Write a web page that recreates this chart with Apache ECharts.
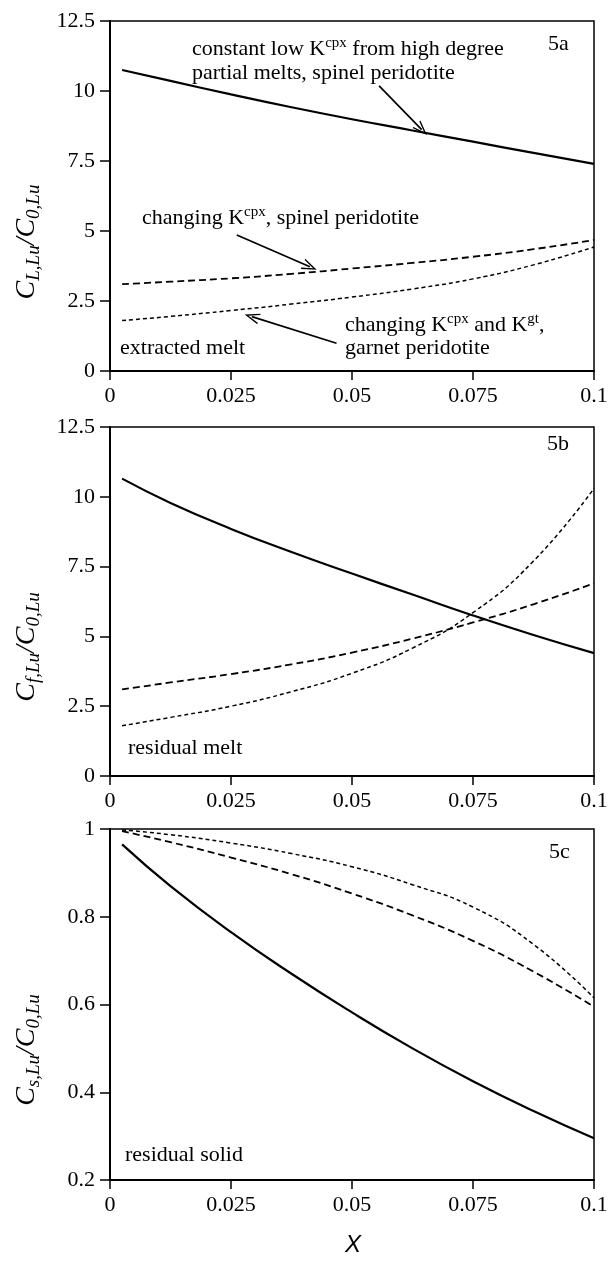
<!DOCTYPE html>
<html>
<head>
<meta charset="utf-8">
<script src="https://cdn.jsdelivr.net/npm/echarts@6/dist/echarts.min.js"></script>
<style>
  html, body { margin: 0; padding: 0; background: #fff; }
  #chart { width: 609px; height: 1261px; }
</style>
</head>
<body>
<div id="chart"></div>
<script>
// melt fraction X
const xs = [0.0025, 0.0125, 0.025, 0.0375, 0.05, 0.0625, 0.075, 0.0875, 0.1];

// 5a extracted melt
const extConst   = [10.75, 10.36, 9.88, 9.42, 8.99, 8.59, 8.19, 7.79, 7.40];
const extSpinel  = [3.10, 3.19, 3.31, 3.47, 3.66, 3.86, 4.08, 4.35, 4.68];
const extGarnet  = [1.80, 1.95, 2.16, 2.39, 2.64, 2.93, 3.29, 3.79, 4.43];

// 5b residual melt
const resConst   = [10.65, 9.78, 8.85, 8.02, 7.25, 6.50, 5.75, 5.05, 4.40];
const resSpinel  = [3.10, 3.35, 3.65, 4.00, 4.42, 4.92, 5.50, 6.15, 6.90];
const resGarnet  = [1.80, 2.10, 2.50, 3.02, 3.68, 4.58, 5.85, 7.70, 10.30];

// 5c residual solid
const solConst   = [0.965, 0.870, 0.765, 0.670, 0.582, 0.500, 0.425, 0.357, 0.295];
const solSpinel  = [0.995, 0.970, 0.935, 0.897, 0.853, 0.803, 0.745, 0.675, 0.595];
const solGarnet  = [0.998, 0.987, 0.968, 0.944, 0.914, 0.873, 0.822, 0.737, 0.615];

const xTicks = [0, 0.025, 0.05, 0.075, 0.1];
const yTicksMelt = [0, 2.5, 5, 7.5, 10, 12.5];
const yTicksSolid = [0.2, 0.4, 0.6, 0.8, 1];

// arrows of 5a: [from, to] in data units
const arrowConst  = [[0.0556, 10.18], [0.0644, 8.62]];
const arrowSpinel = [[0.0262, 4.86], [0.0413, 3.72]];
const arrowGarnet = [[0.0468, 0.99], [0.0293, 1.94]];

const serif = '"Liberation Serif", "Times New Roman", serif';
const grids = [
  { top: 21, height: 350 },
  { top: 427, height: 349 },
  { top: 829, height: 351 }
];

const chart = echarts.init(document.getElementById('chart'));

const pairs = (vals) => vals.map((v, i) => [xs[i], v]);

function xAxisFor (i) {
  return {
    gridIndex: i, type: 'value',
    min: xTicks[0], max: xTicks[xTicks.length - 1], interval: xTicks[1] - xTicks[0],
    axisLine: { show: true, onZero: false, lineStyle: { color: '#000', width: 2 } },
    axisTick: { show: true, inside: false, length: 9, lineStyle: { color: '#000', width: 1.5 } },
    axisLabel: { show: true, margin: 14, color: '#000', fontFamily: serif, fontSize: 22, showMinLabel: true, showMaxLabel: true },
    splitLine: { show: false }
  };
}

function yAxisFor (i, ticks) {
  return {
    gridIndex: i, type: 'value',
    min: ticks[0], max: ticks[ticks.length - 1], interval: ticks[1] - ticks[0],
    axisLine: { show: true, onZero: false, lineStyle: { color: '#000', width: 2 } },
    axisTick: { show: true, inside: false, length: 10, lineStyle: { color: '#000', width: 1.5 } },
    axisLabel: { show: true, margin: 15, color: '#000', fontFamily: serif, fontSize: 22, showMinLabel: true, showMaxLabel: true },
    splitLine: { show: false }
  };
}

const styles = {
  constant: { color: '#000', width: 2.2, type: 'solid' },
  spinel: { color: '#000', width: 1.8, type: [7, 4] },
  garnet: { color: '#000', width: 1.5, type: [4, 3] }
};

function lineSeries (i, vals, kind, arrow) {
  const s = {
    type: 'line', xAxisIndex: i, yAxisIndex: i,
    data: pairs(vals), showSymbol: false, smooth: 0.5,
    lineStyle: styles[kind], animation: false, silent: true
  };
  if (arrow) {
    s.markLine = {
      silent: true, animation: false,
      symbol: ['none', 'path://M5,0L10,12L8.7,12L5,3.2L1.3,12L0,12Z'],
      symbolSize: [11, 15],
      label: { show: false },
      lineStyle: { color: '#000', width: 1.7, type: 'solid' },
      data: [[{ coord: arrow[0] }, { coord: arrow[1] }]]
    };
  }
  return s;
}

const rich = {
  n: { fontFamily: serif, fontSize: 22, lineHeight: 26, color: '#000' },
  sup: { fontFamily: serif, fontSize: 15, lineHeight: 15, verticalAlign: 'top', color: '#000' }
};

function note (x, y, text) {
  return {
    type: 'text', x: x, y: y, silent: true,
    style: { text: text, rich: rich, fill: '#000', font: '22px ' + serif, verticalAlign: 'middle', align: 'left' }
  };
}

const yRich = {
  c: { fontFamily: serif, fontStyle: 'italic', fontSize: 28, lineHeight: 32, color: '#000' },
  s: { fontFamily: serif, fontStyle: 'italic', fontSize: 19, lineHeight: 19, verticalAlign: 'bottom', color: '#000' }
};

function yTitle (y, sub) {
  return {
    type: 'text', x: 27, y: y, rotation: Math.PI / 2, silent: true,
    style: {
      text: '{c|C}{s|' + sub + '}{c|/C}{s|0,Lu}', rich: yRich, fill: '#000',
      align: 'center', verticalAlign: 'middle'
    }
  };
}

chart.setOption({
  backgroundColor: '#fff',
  animation: false,
  grid: grids.map(g => ({
    left: 110, width: 484, top: g.top, height: g.height,
    show: true, borderColor: '#000', borderWidth: 1.5, backgroundColor: 'transparent',
    outerBoundsMode: 'none'
  })),
  xAxis: [xAxisFor(0), xAxisFor(1), xAxisFor(2)],
  yAxis: [yAxisFor(0, yTicksMelt), yAxisFor(1, yTicksMelt), yAxisFor(2, yTicksSolid)],
  series: [
    lineSeries(0, extConst, 'constant', arrowConst),
    lineSeries(0, extSpinel, 'spinel', arrowSpinel),
    lineSeries(0, extGarnet, 'garnet', arrowGarnet),
    lineSeries(1, resConst, 'constant'),
    lineSeries(1, resSpinel, 'spinel'),
    lineSeries(1, resGarnet, 'garnet'),
    lineSeries(2, solConst, 'constant'),
    lineSeries(2, solSpinel, 'spinel'),
    lineSeries(2, solGarnet, 'garnet')
  ],
  graphic: [
    note(192, 49, '{n|constant low K}{sup|cpx}{n| from high degree}'),
    note(192, 73, '{n|partial melts, spinel peridotite}'),
    note(548, 44, '{n|5a}'),
    note(142, 218, '{n|changing K}{sup|cpx}{n|, spinel peridotite}'),
    note(345, 325, '{n|changing K}{sup|cpx}{n| and K}{sup|gt}{n|,}'),
    note(345, 348, '{n|garnet peridotite}'),
    note(120, 348, '{n|extracted melt}'),
    note(547, 444, '{n|5b}'),
    note(128, 748, '{n|residual melt}'),
    note(549, 852, '{n|5c}'),
    note(125, 1155, '{n|residual solid}'),
    yTitle(242, 'L,Lu'),
    yTitle(647, 'f,Lu'),
    yTitle(1050, 's,Lu'),
    {
      type: 'text', x: 353, y: 1245, silent: true,
      style: {
        text: 'X', fill: '#000', align: 'center', verticalAlign: 'middle',
        font: 'italic 24px "Liberation Sans", Arial, sans-serif'
      }
    }
  ]
});
</script>
</body>
</html>
